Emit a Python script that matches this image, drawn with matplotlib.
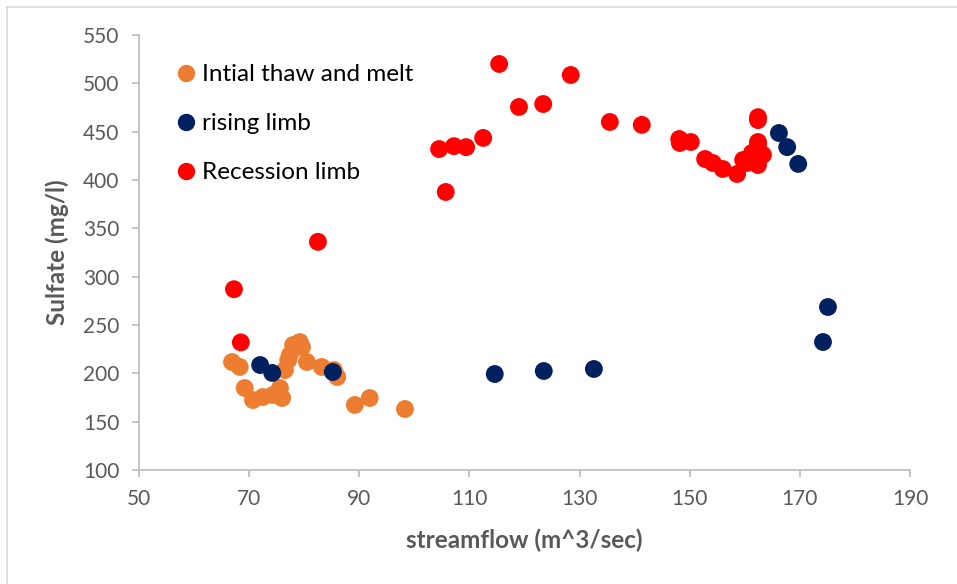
import matplotlib.pyplot as plt
from matplotlib.lines import Line2D

plt.rcParams['font.family'] = ['Lato', 'DejaVu Sans']

# Intial thaw and melt
thaw_x = [66.9, 68.3, 69.2, 70.7, 72.5, 74.3, 76.0, 75.6, 76.5, 77.1, 77.4, 78.0,
          79.2, 79.6, 80.5, 83.2, 86.0, 85.4, 89.2, 91.9, 98.3]
thaw_y = [211.7, 206.6, 184.8, 172.4, 175.5, 177.6, 174.5, 184.8, 203.4, 213.8, 219.0, 229.3,
          232.4, 227.0, 211.7, 206.6, 196.2, 203.4, 167.3, 174.5, 163.1]

# rising limb
rise_x = [72.0, 74.2, 85.2, 114.6, 123.5, 132.6, 166.2, 167.7, 169.7, 175.1, 174.2]
rise_y = [208.6, 200.4, 201.4, 199.3, 202.4, 204.5, 448.6, 434.0, 416.6, 268.6, 232.4]

# Recession limb
rec_x = [67.25, 68.5, 82.5, 105.7, 104.5, 107.2, 109.4, 112.5, 115.4, 119.0, 123.4, 128.4,
         135.5, 141.3, 148.1, 148.2, 150.2, 152.8, 154.2, 156.0, 158.6, 159.7, 160.4, 161.3,
         162.4, 162.4, 162.4, 162.4, 162.4, 163.3]
rec_y = [287.0, 232.0, 336.0, 387.6, 432.0, 435.0, 434.0, 443.5, 520.0, 475.5, 478.6, 508.6,
         460.0, 457.0, 442.4, 438.3, 439.3, 421.7, 417.6, 411.4, 406.2, 420.7, 417.6, 428.0,
         462.0, 465.0, 439.3, 436.0, 415.5, 426.0]

series = [("Intial thaw and melt", thaw_x, thaw_y, "#ED7D31"),
          ("rising limb", rise_x, rise_y, "#002060"),
          ("Recession limb", rec_x, rec_y, "#FF0000")]

fig = plt.figure(figsize=(9.57, 5.84), dpi=100)
ax = fig.add_axes([0.1452, 0.1952, 0.8057, 0.7449])

for name, xs, ys, col in series:
    ax.scatter(xs, ys, s=165, color=col, edgecolors='none', label=name, zorder=3)

ax.set_xlim(50, 190)
ax.set_ylim(100, 550)
ax.set_xticks(range(50, 191, 20))
ax.set_yticks(range(100, 551, 50))

grey = '#595959'
line_grey = '#BFBFBF'
for side in ['top', 'right']:
    ax.spines[side].set_visible(False)
for side in ['left', 'bottom']:
    ax.spines[side].set_color(line_grey)
    ax.spines[side].set_linewidth(1.3)
ax.tick_params(direction='out', length=5, width=1.3, color=line_grey,
               labelcolor=grey, labelsize=15, pad=9)

ax.set_xlabel('streamflow (m^3/sec)', fontsize=17.5, fontweight='bold', color=grey, labelpad=14)
ax.set_ylabel('Sulfate (mg/l)', fontsize=17.5, fontweight='bold', color=grey, labelpad=10)

handles = [Line2D([], [], ls='none', marker='o', markersize=12.5, color=c, markeredgecolor='none')
           for _, _, _, c in series]
ax.legend(handles, [s[0] for s in series], loc='upper left', bbox_to_anchor=(0.033, 0.955),
          frameon=False, fontsize=17.5, handletextpad=0.15, labelspacing=1.15,
          handlelength=1.0, borderaxespad=0)

# light chart frame (left and top edges visible)
fig.add_artist(Line2D([7 / 957, 7 / 957], [0, 1 - 7 / 584], color='#D9D9D9', lw=1.2,
                      transform=fig.transFigure))
fig.add_artist(Line2D([7 / 957, 1], [1 - 7 / 584, 1 - 7 / 584], color='#D9D9D9', lw=1.2,
                      transform=fig.transFigure))

fig.savefig('out.png', dpi=100)
